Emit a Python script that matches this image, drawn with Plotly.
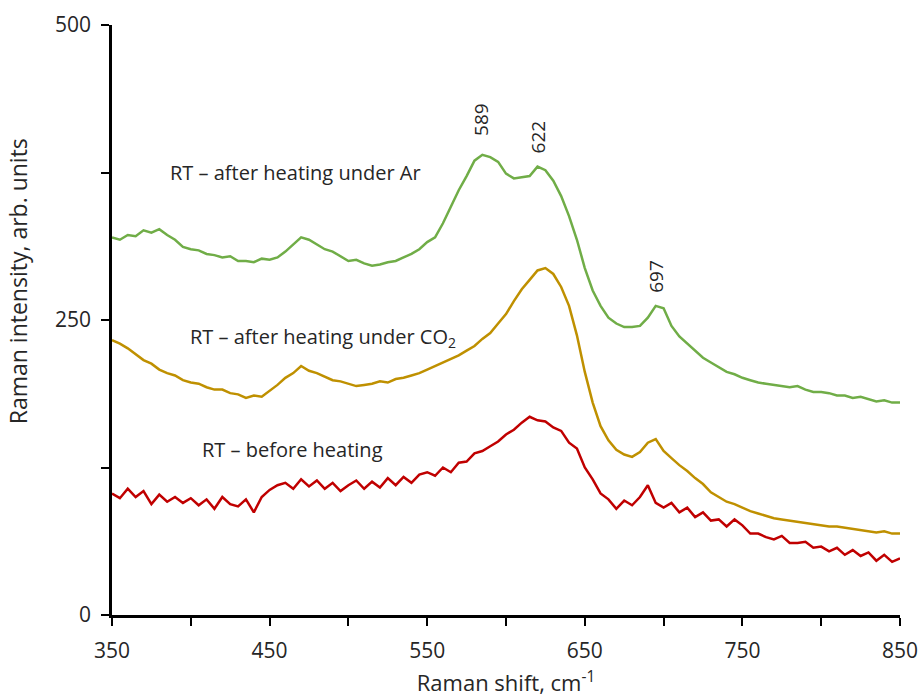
import plotly.graph_objects as go

# Raman shift grid (cm^-1)
shift = list(range(350, 851, 5))

# Intensities (arb. units) for the three spectra
after_ar = [320, 318, 322, 321, 326, 324, 327, 322, 318, 312,
            310, 309, 306, 305, 303, 304, 300, 300, 299, 302,
            301, 303, 308, 314, 320, 318, 314, 310, 308, 304,
            300, 301, 298, 296, 297, 299, 300, 303, 306, 310,
            316, 320, 332, 346, 360, 372, 385, 390, 388, 384,
            374, 370, 371, 372, 380, 377, 368, 355, 338, 318,
            294, 275, 262, 252, 247, 244, 244, 245, 252, 262,
            260, 245, 236, 230, 224, 218, 214, 210, 206, 204,
            201, 199, 197, 196, 195, 194, 193, 194, 191, 189,
            189, 188, 186, 186, 184, 185, 183, 181, 182, 180, 180]

after_co2 = [233, 230, 226, 221, 216, 213, 208, 205, 203, 199,
             197, 196, 193, 191, 191, 188, 187, 184, 186, 185,
             190, 195, 201, 205, 211, 207, 205, 202, 199, 198,
             196, 194, 195, 196, 198, 197, 200, 201, 203, 205,
             208, 211, 214, 217, 220, 224, 228, 234, 239, 247,
             255, 266, 276, 284, 292, 294, 289, 278, 262, 237,
             206, 180, 160, 148, 140, 136, 134, 138, 146, 149,
             139, 133, 127, 122, 116, 111, 104, 100, 96, 94,
             91, 88, 86, 84, 82, 81, 80, 79, 78, 77,
             76, 75, 75, 74, 73, 72, 71, 70, 71, 69, 69]

before = [103, 99, 107, 100, 105, 94, 102, 96, 100, 95,
          99, 93, 98, 90, 100, 94, 92, 98, 87, 100,
          106, 110, 112, 107, 115, 109, 114, 107, 112, 105,
          110, 114, 107, 113, 108, 116, 110, 117, 112, 119,
          121, 118, 125, 121, 129, 130, 137, 139, 143, 147,
          153, 157, 163, 168, 165, 164, 159, 156, 146, 141,
          125, 115, 103, 98, 90, 97, 93, 100, 110, 95,
          91, 95, 87, 91, 83, 87, 80, 81, 75, 81,
          76, 69, 69, 66, 64, 67, 61, 61, 62, 57,
          58, 54, 57, 51, 55, 50, 53, 46, 51, 45, 48]

series_names = ["RT – after heating under Ar",
                "RT – after heating under CO<sub>2</sub>",
                "RT – before heating"]
series_colors = ["#70AD47", "#BF9000", "#C00000"]

# Peak positions marked on the spectra
peak_labels = ["589", "622", "697"]

FONT = "Open Sans"
TXT = "#262626"

fig = go.Figure()
for ys, name, col in zip([after_ar, after_co2, before], series_names, series_colors):
    fig.add_trace(go.Scatter(x=shift, y=ys, mode="lines", name=name,
                             line=dict(color=col, width=2.5),
                             showlegend=False))

# Curve labels
label_pos = [(385.5, 375), (398, 235), (406, 140)]
for name, (lx, ly) in zip(series_names, label_pos):
    fig.add_annotation(x=lx, y=ly, text=name, showarrow=False,
                       xanchor="left", yanchor="middle",
                       font=dict(family=FONT, size=20, color=TXT))

# Vertical peak labels
peak_pos = [(584.5, 420), (620.5, 405), (695.5, 287)]
for txt, (px, py) in zip(peak_labels, peak_pos):
    fig.add_annotation(x=px, y=py, text=txt, showarrow=False, textangle=-90,
                       xanchor="center", yanchor="middle",
                       font=dict(family=FONT, size=19, color=TXT))

# Vertical axis title, set a little above the axis midpoint
fig.add_annotation(xref="paper", yref="paper", x=-0.119, y=0.566,
                   text="Raman intensity, arb. units", showarrow=False,
                   textangle=-90, xanchor="center", yanchor="middle",
                   font=dict(family=FONT, size=23, color=TXT))

fig.update_layout(
    width=922, height=697,
    margin=dict(l=112, r=22, t=25, b=82),
    paper_bgcolor="white", plot_bgcolor="white",
    font=dict(family=FONT, size=20, color=TXT),
    xaxis=dict(range=[350, 850], tickvals=[350, 450, 550, 650, 750, 850],
               automargin=False,
               showgrid=False, zeroline=False,
               showline=True, linecolor="black", linewidth=2.5,
               ticks="outside", ticklen=8, tickwidth=2, tickcolor="black",
               minor=dict(tickvals=[400, 500, 600, 700, 800], ticks="outside",
                          ticklen=8, tickwidth=2, tickcolor="black"),
               ticklabelstandoff=7,
               tickfont=dict(family=FONT, size=21, color=TXT),
               title=dict(text="Raman shift, cm<sup>-1</sup>", standoff=14,
                          font=dict(family=FONT, size=22, color=TXT))),
    yaxis=dict(range=[0, 500], tickvals=[0, 250, 500],
               automargin=False,
               showgrid=False, zeroline=False,
               showline=True, linecolor="black", linewidth=2.5,
               ticks="outside", ticklen=8, tickwidth=2, tickcolor="black",
               minor=dict(tickvals=[125, 375], ticks="outside",
                          ticklen=8, tickwidth=2, tickcolor="black"),
               ticklabelstandoff=6,
               tickfont=dict(family=FONT, size=21, color=TXT)),
)

fig.write_html("out.html")
